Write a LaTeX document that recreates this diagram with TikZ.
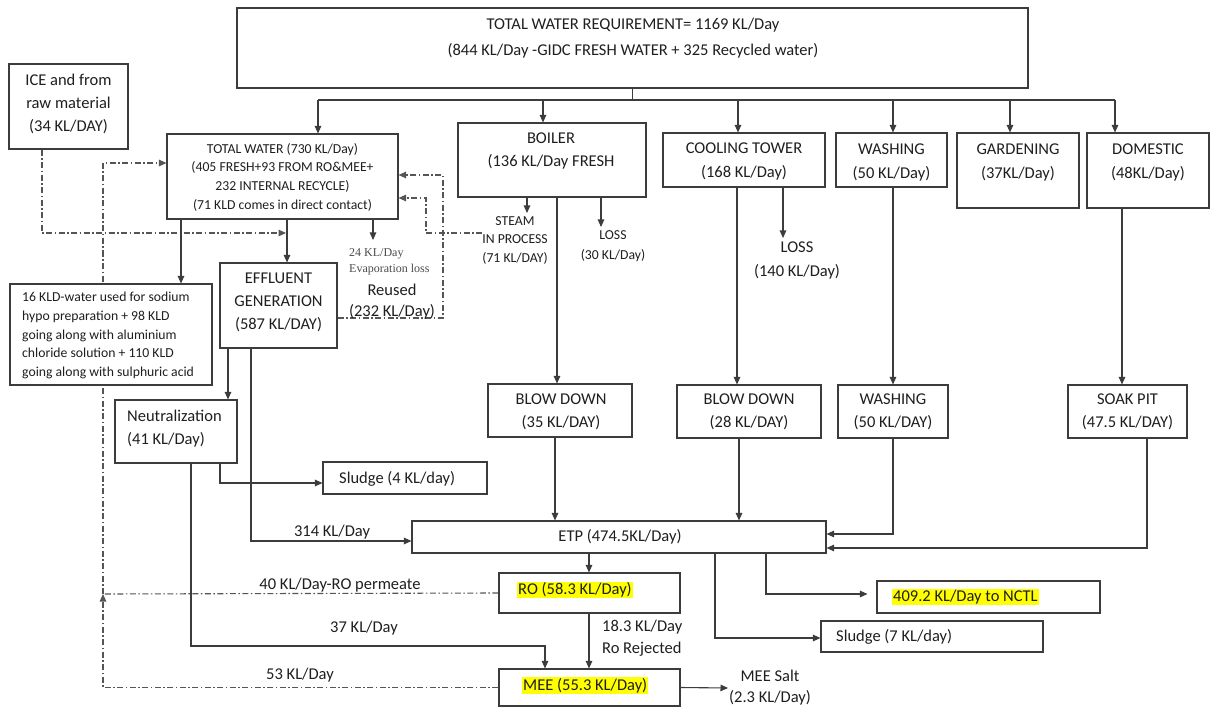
\documentclass[tikz,border=0pt]{standalone}
\usepackage{fontspec}
\setmainfont{Carlito}
\newfontfamily\serifTNR{Liberation Serif}
\usetikzlibrary{arrows.meta}
\definecolor{ln}{HTML}{3C3C3C}
\definecolor{dl}{HTML}{555555}
\definecolor{hl}{HTML}{FFFF00}
\pgfdeclarelayer{background}
\pgfsetlayers{background,main}
\begin{document}
\begin{tikzpicture}[x=1pt,y=-1pt,
  box/.style={draw=ln, fill=white, line width=1.1pt, inner sep=0pt},
  txt/.style={inner sep=0pt, text=black!88, align=center, font=\fontsize{16.5}{23}\selectfont},
  stxt/.style={txt, font=\fontsize{13.7}{18.7}\selectfont},
  hlt/.style={inner sep=1pt, fill=hl, text=black!88, font=\fontsize{16.5}{23}\selectfont},
  wire/.style={draw=ln, line width=1.1pt},
  arr/.style={wire, -{Triangle[length=7.5pt,width=6.5pt]}},
  dd/.style={draw=dl, line width=1.1pt, dash pattern=on 6pt off 2.5pt on 1.5pt off 2.5pt},
  dda/.style={dd, -{Triangle[length=7.5pt,width=6.5pt]}}
]
% page
\begin{pgfonlayer}{background}
\fill[white] (0,0) rectangle (1217,711);
\end{pgfonlayer}
\useasboundingbox (0,0) rectangle (1217,711);

% ---------- boxes ----------
\node[box, minimum width=791pt, minimum height=80pt] (top) at (632.5,48) {};
\node[box, minimum width=119pt, minimum height=85pt] (ice) at (68.5,106.5) {};
\node[box, minimum width=231pt, minimum height=85pt] (tw) at (282.5,176.5) {};
\node[box, minimum width=188pt, minimum height=74pt] (boiler) at (552,160) {};
\node[box, minimum width=162pt, minimum height=54pt] (cool) at (744,160) {};
\node[box, minimum width=111pt, minimum height=54pt] (wash) at (891.5,160) {};
\node[box, minimum width=122pt, minimum height=75pt] (garden) at (1018,170.5) {};
\node[box, minimum width=122pt, minimum height=75pt] (dom) at (1148,170.5) {};
\node[box, minimum width=202pt, minimum height=101pt] (kld) at (111,334.5) {};
\node[box, minimum width=117pt, minimum height=85pt] (eff) at (278.5,305.5) {};
\node[box, minimum width=122pt, minimum height=63pt] (neut) at (176,431.5) {};
\node[box, minimum width=144pt, minimum height=53pt] (bd1) at (560,410.5) {};
\node[box, minimum width=144pt, minimum height=53pt] (bd2) at (749,411.5) {};
\node[box, minimum width=110pt, minimum height=53pt] (wash2) at (893,411.5) {};
\node[box, minimum width=119pt, minimum height=53pt] (soak) at (1127.5,411.5) {};
\node[box, minimum width=164pt, minimum height=32pt] (sl4) at (405,478) {};
\node[box, minimum width=414pt, minimum height=32pt] (etp) at (619,537) {};
\node[box, minimum width=181pt, minimum height=40pt] (ro) at (589.5,593) {};
\node[box, minimum width=181pt, minimum height=37pt] (mee) at (589.5,687.5) {};
\node[box, minimum width=223pt, minimum height=32pt] (nctl) at (988.5,597) {};
\node[box, minimum width=222pt, minimum height=31pt] (sl7) at (932,636.5) {};

% ---------- box texts ----------
\node[txt, font=\fontsize{16.5}{26}\selectfont] (topT) at (633,38)
  {TOTAL WATER REQUIREMENT= 1169 KL/Day\\(844 KL/Day -GIDC FRESH WATER + 325 Recycled water)};
\node[txt] (iceT) at (68.5,104) {ICE and from\\raw material\\(34 KL/DAY)};
\node[stxt] (twT) at (282.5,177) {TOTAL WATER (730 KL/Day)\\(405 FRESH+93 FROM RO\&MEE+\\232 INTERNAL RECYCLE)\\(71 KLD comes in direct contact)};
\node[txt] (boilerT) at (551,151) {BOILER\\(136 KL/Day FRESH};
\node[txt, font=\fontsize{16.5}{24}\selectfont] (coolT) at (744,161) {COOLING TOWER\\(168 KL/Day)};
\node[txt, font=\fontsize{16.5}{24}\selectfont] (washT) at (891.5,162) {WASHING\\(50 KL/Day)};
\node[txt, font=\fontsize{16.5}{24}\selectfont] (gardenT) at (1018,162) {GARDENING\\(37KL/Day)};
\node[txt, font=\fontsize{16.5}{24}\selectfont] (domT) at (1148,162) {DOMESTIC\\(48KL/Day)};
\node[stxt, align=left, anchor=west] (kldT) at (22,335.5)
  {16 KLD-water used for sodium\\hypo preparation + 98 KLD\\going along with aluminium\\chloride solution + 110 KLD\\going along with sulphuric acid};
\node[txt] (effT) at (278.5,302) {EFFLUENT\\GENERATION\\(587 KL/DAY)};
\node[txt, align=left, anchor=west] (neutT) at (127,428.5) {Neutralization\\(41 KL/Day)};
\node[txt] (bd1T) at (561,411.5) {BLOW DOWN\\(35 KL/DAY)};
\node[txt] (bd2T) at (749,412) {BLOW DOWN\\(28 KL/DAY)};
\node[txt] (wash2T) at (893,412) {WASHING\\(50 KL/DAY)};
\node[txt] (soakT) at (1127.5,412) {SOAK PIT\\(47.5 KL/DAY)};
\node[txt, anchor=west] (sl4T) at (339,479) {Sludge (4 KL/day)};
\node[txt] (etpT) at (620,537) {ETP (474.5KL/Day)};
\node[hlt, anchor=west] (roT) at (517,590) {RO (58.3 KL/Day)};
\node[hlt, anchor=west] (meeT) at (522,685.5) {MEE (55.3 KL/Day)};
\node[hlt, anchor=west] (nctlT) at (892,597) {409.2 KL/Day to NCTL};
\node[txt, anchor=west] (sl7T) at (836,637) {Sludge (7 KL/day)};

% ---------- free labels ----------
\node[stxt] (steamT) at (515,240.5) {STEAM\\IN PROCESS\\(71 KL/DAY)};
\node[stxt, font=\fontsize{13.7}{20}\selectfont] (loss1T) at (613,246) {LOSS\\(30 KL/Day)};
\node[txt, font=\fontsize{16.5}{24}\selectfont] (loss2T) at (797,260) {LOSS\\(140 KL/Day)};
\node[txt, align=left, anchor=west, font=\serifTNR\fontsize{12}{16}\selectfont, text=black!70] (evapT) at (349,262) {24 KL/Day\\Evaporation loss};
\node[txt, font=\fontsize{16.5}{21}\selectfont] (reusedT) at (392,301.5) {Reused\\(232 KL/Day)};
\node[txt] (l314) at (332,532) {314 KL/Day};
\node[txt] (l40) at (340,585) {40 KL/Day-RO permeate};
\node[txt] (l37) at (364,628) {37 KL/Day};
\node[txt] (l53) at (300,675) {53 KL/Day};
\node[txt, align=left, anchor=west, font=\fontsize{16.5}{22}\selectfont] (l183) at (602,638) {18.3 KL/Day\\Ro Rejected};
\node[txt, font=\fontsize{16.5}{21}\selectfont] (saltT) at (770,688) {MEE Salt\\(2.3 KL/Day)};

% ---------- distribution from total requirement ----------
\coordinate (stem) at (top.south |- 0,100);
\coordinate (bTW) at (318,100);
\coordinate (bBO) at (543,100);
\coordinate (bCT) at (738,100);
\coordinate (bWA) at (893,100);
\coordinate (bGA) at (1010,100);
\coordinate (bDO) at (1115,100);
\draw[wire] (top.south) -- (stem);
\draw[wire] (bTW) -- (bDO);
\draw[arr] (bTW) -- (bTW |- tw.north);
\draw[arr] (bBO) -- (bBO |- boiler.north);
\draw[arr] (bCT) -- (bCT |- cool.north);
\draw[arr] (bWA) -- (bWA |- wash.north);
\draw[arr] (bGA) -- (bGA |- garden.north);
\draw[arr] (bDO) -- (bDO |- dom.north);

% ---------- process water ----------
\coordinate (evapTop) at (373,240);
\draw[arr] (tw.south -| 181,0) -- (kld.north -| 181,0);
\draw[arr] (tw.south -| 287,0) -- (eff.north -| 287,0);
\draw[arr] (tw.south -| 373,0) -- (evapTop);

% recycle loops (dash-dot), kept behind the boxes
\coordinate (iceJ) at (286,233);
\coordinate (lp) at (103,594);
\begin{pgfonlayer}{background}
\draw[dda] (ice.south -| 42,0) |- (iceJ);
\draw[dda] (mee.west) -| (lp);
\draw[dd] (ro.west) -- (lp);
\draw[dda] (lp) |- (tw.west |- 0,163);
\draw[dda] (eff.east |- 0,318) -| (443,175) -- (tw.east |- 0,175);
\draw[dda] (steamT.west |- 0,233) -| (426,198) -- (tw.east |- 0,198);
\end{pgfonlayer}

% ---------- boiler / cooling / washing / domestic ----------
\coordinate (steamTop) at (527,213);
\coordinate (lossTop) at (601,227);
\coordinate (loss2Top) at (783,238);
\draw[arr] (boiler.south -| 527,0) -- (steamTop);
\draw[arr] (boiler.south -| 601,0) -- (lossTop);
\draw[arr] (boiler.south -| 557,0) -- (bd1.north -| 557,0);
\draw[arr] (cool.south -| 737,0) -- (bd2.north -| 737,0);
\draw[arr] (cool.south -| 783,0) -- (loss2Top);
\draw[arr] (wash.south -| 893,0) -- (wash2.north -| 893,0);
\draw[arr] (dom.south -| 1122,0) -- (soak.north -| 1122,0);

% ---------- into ETP ----------
\draw[arr] (bd1.south -| 555,0) -- (etp.north -| 555,0);
\draw[arr] (bd2.south -| 739,0) -- (etp.north -| 739,0);
\draw[arr] (wash2.south) |- (etp.east |- 0,534);
\draw[arr] (soak.south -| 1147,0) |- (etp.east |- 0,548);
\draw[arr] (eff.south -| 251,0) |- (etp.west |- 0,541);
\draw[arr] (eff.south -| 228,0) -- (neut.north -| 228,0);
\draw[arr] (neut.south -| 220,0) |- (sl4.west |- 0,483);
\draw[arr] (neut.south -| 191,0) |- (545,646) -- (mee.north -| 545,0);

% ---------- out of ETP ----------
\coordinate (saltIn) at (728,688);
\draw[arr] (etp.south -| 589,0) -- (ro.north -| 589,0);
\draw[arr] (ro.south -| 589,0) -- (mee.north -| 589,0);
\draw[arr] (etp.south -| 715,0) |- (sl7.west |- 0,638);
\draw[arr, shorten >=9pt] (etp.south -| 766,0) |- (nctl.west |- 0,594);
\draw[arr] (mee.east) -- (saltIn);
\end{tikzpicture}
\end{document}
